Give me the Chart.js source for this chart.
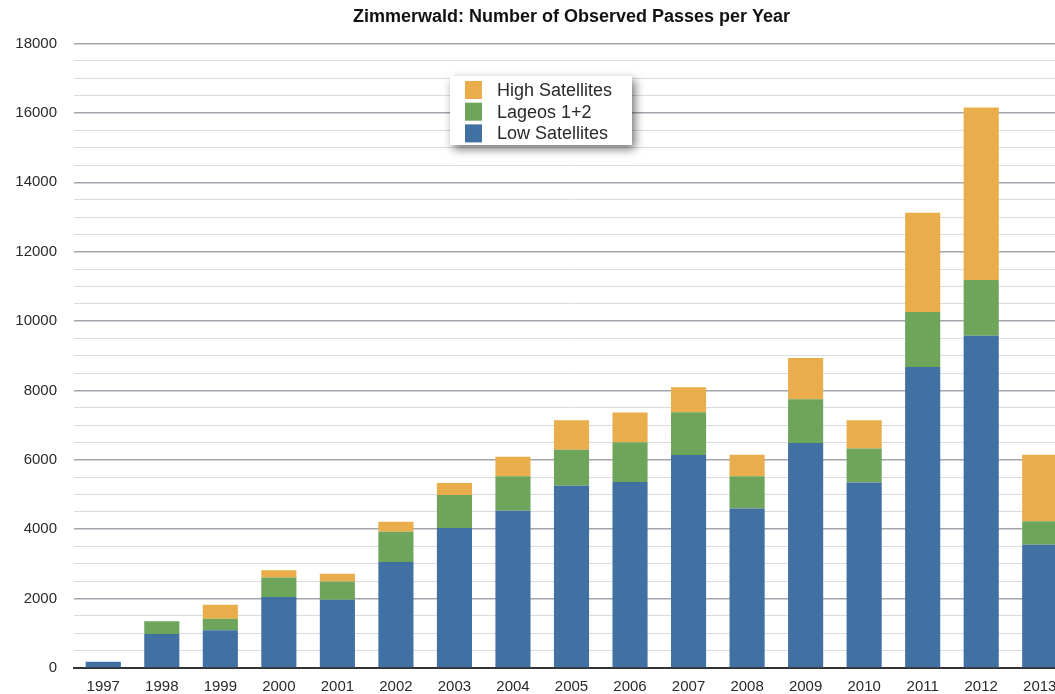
<!DOCTYPE html>
<html>
<head>
<meta charset="utf-8">
<script src="https://cdn.jsdelivr.net/npm/chart.js@4"></script>
<style>
  html, body { margin: 0; padding: 0; background: #fff; overflow: hidden; }
  #wrap { position: relative; width: 1069px; height: 694px; }
</style>
</head>
<body>
<div id="wrap"><canvas id="passesChart"></canvas></div>
<script>
const years = ["1997", "1998", "1999", "2000", "2001", "2002", "2003", "2004", "2005",
  "2006", "2007", "2008", "2009", "2010", "2011", "2012", "2013"];
const lowSatellites = [180, 980, 1085, 2050, 1965, 3055, 4035, 4535, 5255,
  5360, 6140, 4600, 6485, 5350, 8675, 9575, 3550];
const lageos = [0, 365, 335, 560, 530, 870, 950, 990, 1035,
  1150, 1230, 930, 1265, 980, 1585, 1610, 680];
const highSatellites = [0, 0, 400, 210, 220, 290, 345, 565, 850,
  855, 720, 615, 1190, 815, 2865, 4970, 1915];

const FONT = "'Liberation Sans', Arial, Helvetica, sans-serif";

// 凡例（影付きの白い箱）を描くプラグイン
const boxLegend = {
  id: "boxLegend",
  afterDraw(chart) {
    const ctx = chart.ctx;
    const x = 450, y = 76, w = 182, h = 69;
    ctx.save();
    ctx.shadowColor = "rgba(0,0,0,0.55)";
    ctx.shadowBlur = 9;
    ctx.shadowOffsetX = 3;
    ctx.shadowOffsetY = 4;
    ctx.fillStyle = "#fff";
    ctx.fillRect(x, y, w, h);
    ctx.restore();

    ctx.save();
    ctx.font = "18px " + FONT;
    ctx.textBaseline = "middle";
    const items = chart.data.datasets.slice().reverse();
    items.forEach((ds, i) => {
      const cy = y + 14 + i * 21.7;
      ctx.fillStyle = ds.backgroundColor;
      ctx.fillRect(x + 15, cy - 9, 17, 18);
      ctx.fillStyle = "#2a2a2a";
      ctx.fillText(ds.label, x + 47, cy + 1);
    });
    ctx.restore();
  },
};

const chart = new Chart(document.getElementById("passesChart"), {
  type: "bar",
  data: {
    labels: years,
    datasets: [
      { label: "Low Satellites", data: lowSatellites, backgroundColor: "#4170a2" },
      { label: "Lageos 1+2", data: lageos, backgroundColor: "#6ea55b" },
      { label: "High Satellites", data: highSatellites, backgroundColor: "#e9ad4c" },
    ],
  },
  options: {
    responsive: true,
    maintainAspectRatio: false,
    animation: false,
    layout: { padding: 0 },
    datasets: {
      bar: { barPercentage: 0.6, categoryPercentage: 1.0 },
    },
    scales: {
      x: {
        stacked: true,
        grid: { display: false, drawTicks: false },
        border: { display: true, color: "#333", width: 2 },
        ticks: { color: "#2a2a2a", font: { family: FONT, size: 15 }, padding: 10, maxRotation: 0 },
        afterFit(scale) { scale.height = 24; },
      },
      y: {
        stacked: true,
        min: 0,
        max: 18000,
        border: { display: false },
        grid: {
          drawTicks: false,
          color: (c) => (c.tick.value % 2000 === 0 ? "#a2a5ad" : "#dadbe0"),
          lineWidth: (c) => (c.tick.value % 2000 === 0 ? 1.5 : 1),
        },
        ticks: {
          stepSize: 500,
          autoSkip: false,
          color: "#2a2a2a",
          padding: 17,
          font: { family: FONT, size: 15 },
          callback: (v) => (v % 2000 === 0 ? String(v) : ""),
        },
        afterFit(scale) { scale.width = 74; },
      },
    },
    plugins: {
      legend: { display: false },
      tooltip: { enabled: false },
      title: {
        display: true,
        fullSize: false,
        text: "Zimmerwald: Number of Observed Passes per Year",
        color: "#111",
        font: { family: FONT, size: 18, weight: "bold" },
        padding: { top: 6, bottom: 16 },
      },
    },
  },
  plugins: [boxLegend],
});
</script>
</body>
</html>
